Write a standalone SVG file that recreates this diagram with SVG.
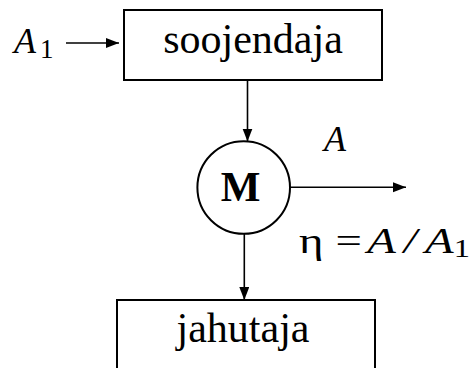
<svg xmlns="http://www.w3.org/2000/svg" width="472" height="368" viewBox="0 0 472 368">
<style>
.box{fill:#fff;stroke:#000;stroke-width:2}
.ln{fill:none;stroke:#000;stroke-width:1.6}
.t{font-family:"Liberation Serif","Times New Roman",serif;fill:#000}
.it{font-style:italic}
.sub{font-style:normal}
</style>
<defs>
<marker id="ah" markerUnits="userSpaceOnUse" markerWidth="14" markerHeight="11" refX="13" refY="5" orient="auto">
<path d="M0,0 L13,5 L0,10 Z" fill="#000"/>
</marker>
</defs>
<g id="connectors">
<line class="ln" x1="66" y1="43" x2="119" y2="43" marker-end="url(#ah)"/>
<line class="ln" x1="247.5" y1="80" x2="247.5" y2="141.5" marker-end="url(#ah)"/>
<line class="ln" x1="290" y1="187.3" x2="406" y2="187.3" marker-end="url(#ah)"/>
<line class="ln" x1="244.3" y1="233" x2="244.3" y2="300" marker-end="url(#ah)"/>
</g>
<g id="soojendaja">
<rect class="box" x="124" y="10" width="258" height="70"/>
<text class="t" x="253" y="53" font-size="42" text-anchor="middle">soojendaja</text>
</g>
<g id="M">
<circle class="box" cx="243.7" cy="187.5" r="46.3"/>
<text class="t" x="240.5" y="201" font-size="42" font-weight="bold" text-anchor="middle">M</text>
</g>
<g id="jahutaja">
<rect class="box" x="117" y="300" width="258" height="80"/>
<text class="t" x="243" y="342" font-size="42" text-anchor="middle">jahutaja</text>
</g>
<g id="A1-label">
<text class="t it" x="14" y="53" font-size="36">A<tspan class="sub" dx="4" dy="5" font-size="27">1</tspan></text>
</g>
<g id="A-label">
<text class="t it" x="324" y="151" font-size="36">A</text>
</g>
<g id="eta-label" transform="translate(299,253) scale(1.3,1)">
<text class="t" x="0" y="0" font-size="36">η</text>
<text class="t" x="28" y="0" font-size="36">=</text>
<text class="t it" x="52.5" y="0" font-size="36">A</text>
<text class="t it" x="80.5" y="0" font-size="36">/</text>
<text class="t it" x="97" y="0" font-size="36">A<tspan class="sub" dy="4" font-size="25">1</tspan></text>
</g>
</svg>
